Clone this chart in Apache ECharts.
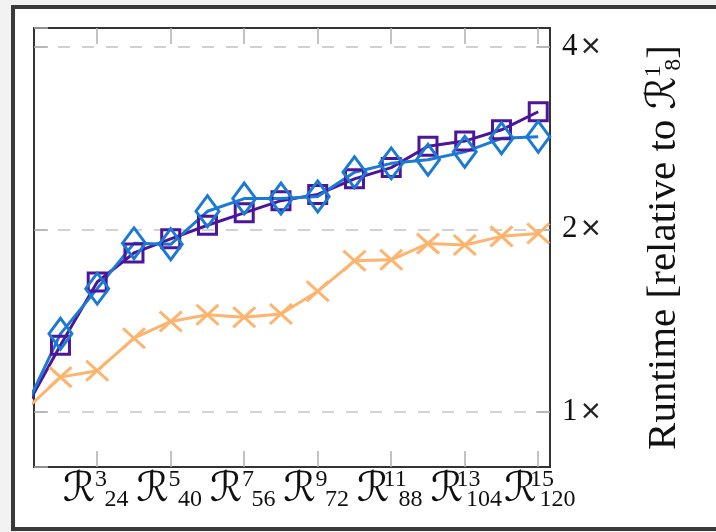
<!DOCTYPE html>
<html>
<head>
<meta charset="utf-8">
<script src="https://cdn.jsdelivr.net/npm/echarts@6/dist/echarts.min.js"></script>
<style>
  html, body { margin: 0; padding: 0; background: #f2f2f2; overflow: hidden; }
  #frame {
    position: absolute; left: 11px; top: 5px;
    width: 760px; height: 518px;
    border: 4px solid #3a3a3a; background: #fff;
  }
  #chart { position: absolute; left: 0; top: 0; width: 716px; height: 532px; }
</style>
</head>
<body>
<div id="frame"></div>
<div id="chart"></div>
<script>
// run index (R^k_{8k}), k = 1..15
const levels = [1, 2, 3, 4, 5, 6, 7, 8, 9, 10, 11, 12, 13, 14, 15];

// runtime relative to R^1_8
const squareRuntime  = [1, 1.287, 1.637, 1.828, 1.929, 2.031, 2.129, 2.230, 2.284, 2.423, 2.529, 2.742, 2.797, 2.920, 3.127];
const diamondRuntime = [1, 1.344, 1.596, 1.896, 1.889, 2.142, 2.248, 2.248, 2.265, 2.485, 2.570, 2.605, 2.685, 2.827, 2.844];
const crossRuntime   = [1, 1.140, 1.168, 1.322, 1.409, 1.445, 1.432, 1.449, 1.580, 1.774, 1.781, 1.894, 1.884, 1.947, 1.968];

// x tick labels
const tickLevels = [3, 5, 7, 9, 11, 13, 15];
const tickSup = ['3', '5', '7', '9', '11', '13', '15'];
const tickSub = ['24', '40', '56', '72', '88', '104', '120'];

const PURPLE = '#4d1599';
const BLUE = '#1a7ad4';
const ORANGE = '#fdb46f';
const SERIF = "'Liberation Serif', 'DejaVu Serif', serif";
const SCRIPT = "'DejaVu Serif', 'DejaVu Sans', serif";
const GRID_GRAY = '#c4c4c4';
const TICK_GRAY = '#b0b0b0';
const FRAME = '#333';

const labelRich = {
  R: { fontFamily: SCRIPT, fontSize: 41, lineHeight: 44, color: '#111' },
  sup: { fontFamily: SERIF, fontSize: 24, lineHeight: 20, verticalAlign: 'top', width: 1, align: 'left', padding: [0, 0, 0, 5], color: '#111' },
  sub: { fontFamily: SERIF, fontSize: 24, lineHeight: 20, verticalAlign: 'bottom', width: 30, align: 'left', color: '#111' }
};
const nameRich = {
  R: { fontFamily: SCRIPT, fontSize: 41, lineHeight: 44, color: '#111' },
  sup: { fontFamily: SERIF, fontSize: 24, lineHeight: 20, verticalAlign: 'top', width: 1, align: 'left', padding: [0, 0, 0, 5], color: '#111' },
  sub: { fontFamily: SERIF, fontSize: 24, lineHeight: 20, verticalAlign: 'bottom', color: '#111' }
};

const xRange = { min: 1.28, max: 15.32 };
const yRange = { min: 0.81, max: 4.3 };

const toPairs = vals => levels.map((lv, i) => [lv, vals[i]]);

const chart = echarts.init(document.getElementById('chart'));

const frameLine = { onZero: false, lineStyle: { color: FRAME, width: 2 } };

chart.setOption({
  animation: false,
  backgroundColor: 'transparent',
  grid: { left: 34, right: 166, top: 28, bottom: 65 },
  xAxis: [
    {
      type: 'value', position: 'bottom', ...xRange,
      axisLine: frameLine,
      axisTick: { customValues: tickLevels, inside: true, length: 16, lineStyle: { color: TICK_GRAY, width: 1.5 } },
      axisLabel: {
        customValues: tickLevels,
        showMinLabel: true, showMaxLabel: true, hideOverlap: false,
        margin: 1,
        formatter: v => {
          const i = tickLevels.indexOf(v);
          return '{R|\u211B}{sup|' + tickSup[i] + '}{sub|' + tickSub[i] + '}';
        },
        rich: labelRich
      },
      splitLine: { show: false }
    },
    {
      type: 'value', position: 'top', ...xRange,
      axisLine: frameLine,
      axisTick: { customValues: tickLevels, inside: true, length: 16, lineStyle: { color: TICK_GRAY, width: 1.5 } },
      axisLabel: { show: false },
      splitLine: { show: false }
    }
  ],
  yAxis: [
    {
      type: 'log', logBase: 2, position: 'right', ...yRange,
      axisLine: frameLine,
      axisTick: { inside: true, length: 14, lineStyle: { color: TICK_GRAY, width: 1.5 } },
      axisLabel: {
        showMinLabel: false, showMaxLabel: false,
        margin: 12,
        fontFamily: SERIF, fontSize: 31, color: '#111',
        formatter: v => Math.round(v) + '{x|\u00D7}',
        rich: { x: { fontFamily: "'DejaVu Sans', sans-serif", fontSize: 27, color: '#222', padding: [0, 0, 0, 2] } }
      },
      splitLine: { show: true, lineStyle: { color: GRID_GRAY, width: 1.5, type: [12, 12] } },
      name: 'Runtime [relative to {R|\u211B}{sup|1}{sub|8}]',
      nameLocation: 'middle',
      nameRotate: 90,
      nameGap: 92,
      nameTextStyle: { fontFamily: SERIF, fontSize: 41, color: '#111', rich: nameRich }
    },
    {
      type: 'log', logBase: 2, position: 'left', ...yRange,
      axisLine: frameLine,
      axisTick: { inside: true, length: 14, lineStyle: { color: TICK_GRAY, width: 1.5 } },
      axisLabel: { show: false },
      splitLine: { show: false }
    }
  ],
  series: [
    {
      name: 'square', type: 'line', xAxisIndex: 0, yAxisIndex: 0,
      data: toPairs(squareRuntime),
      symbol: 'rect', symbolSize: 18,
      lineStyle: { color: PURPLE, width: 3 },
      itemStyle: { color: 'rgba(0,0,0,0)', borderColor: PURPLE, borderWidth: 3 },
      emphasis: { disabled: true }
    },
    {
      name: 'diamond', type: 'line', xAxisIndex: 0, yAxisIndex: 0,
      data: toPairs(diamondRuntime),
      symbol: 'diamond', symbolSize: [23, 31],
      lineStyle: { color: BLUE, width: 3 },
      itemStyle: { color: 'rgba(0,0,0,0)', borderColor: BLUE, borderWidth: 3 },
      emphasis: { disabled: true }
    },
    {
      name: 'cross', type: 'line', xAxisIndex: 0, yAxisIndex: 0,
      data: toPairs(crossRuntime),
      symbol: 'path://M0,0L10,10M10,0L0,10', symbolSize: [22, 20],
      lineStyle: { color: ORANGE, width: 3 },
      itemStyle: { color: 'none', borderColor: ORANGE, borderWidth: 3 },
      emphasis: { disabled: true }
    }
  ]
});

window.addEventListener('resize', () => chart.resize());
</script>
</body>
</html>
